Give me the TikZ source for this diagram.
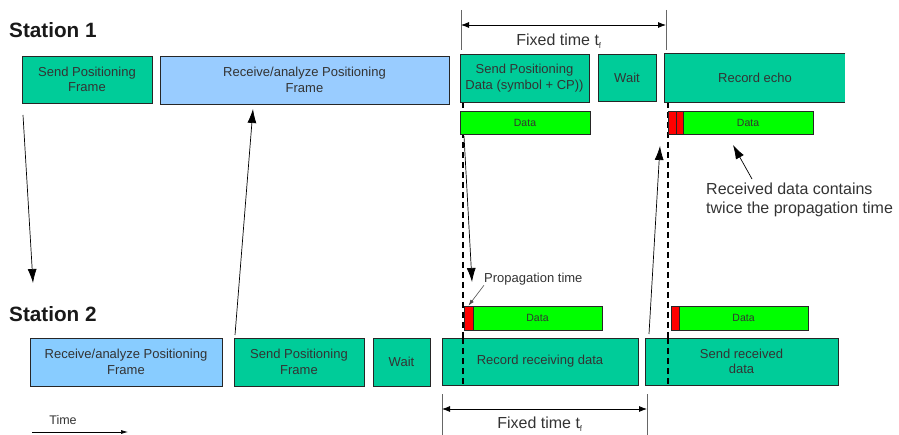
\documentclass[tikz,border=0pt]{standalone}
\usepackage{fontspec}
\setmainfont{Liberation Sans}
\usetikzlibrary{arrows.meta}
\definecolor{boxgreen}{HTML}{00CC99}
\definecolor{boxblue}{HTML}{99CCFF}
\definecolor{boxblueb}{HTML}{88CCFF}
\definecolor{datagreen}{HTML}{00FF00}
\definecolor{txt}{HTML}{333333}
\tikzset{
  box/.style={draw=black!85, line width=0.9pt, inner sep=0pt, align=center, text=txt, font=\fontsize{13}{15.5}\selectfont},
  gbox/.style={box, fill=boxgreen},
  bbox/.style={box, fill=boxblue},
  databar/.style={draw=black!85, line width=0.8pt, fill=datagreen, inner sep=0pt, text=txt, font=\fontsize{10.5}{12}\selectfont},
  redbar/.style={draw=black!85, line width=0.8pt, fill=red, inner sep=0pt},
  bigarrow/.style={draw=black, line width=0.7pt, -{Latex[length=14pt,width=9pt]}},
  dimarrow/.style={draw=black, line width=0.8pt, {Latex[length=8pt,width=6pt]}-{Latex[length=8pt,width=6pt]}},
  dimline/.style={draw=black!60, line width=1pt},
  dashline/.style={draw=black, line width=1.6pt, dash pattern=on 6pt off 4pt},
  title/.style={font=\fontsize{20.7}{24}\selectfont\bfseries, text=black!90, anchor=west, inner sep=0pt},
  lbl/.style={font=\fontsize{16}{19}\selectfont, text=txt, inner sep=0pt}
}
\begin{document}
\begin{tikzpicture}[x=1pt,y=-1pt]
\useasboundingbox (0,0) rectangle (899,435);

% titles
\node[title] (st1) at (9,30) {Station 1};
\node[title] (st2) at (9,314) {Station 2};

% dashed guide lines
\draw[dashline] (463,102) -- (463,386);
\draw[dashline] (668,102) -- (668,386);

% Station 1 boxes
\node[gbox, minimum width=130pt, minimum height=47pt] (a1) at (87,79.5) {Send Positioning\\Frame};
\node[bbox, minimum width=289pt, minimum height=48pt] (a2) at (304.5,80) {Receive/analyze Positioning\\Frame};
\node[gbox, minimum width=129pt, minimum height=48pt] (a3) at (524.5,78) {Send Positioning\\Data (symbol + CP))};
\node[gbox, minimum width=58pt, minimum height=47pt] (a4) at (627,77.5) {Wait};
\node[box, draw=none, fill=boxgreen, minimum width=180pt, minimum height=48pt] (a5) at (755,78) {Record echo};
\draw[black!85, line width=0.9pt] (a5.north east) -- (a5.north west) -- (a5.south west) -- (a5.south east);

% Station 1 data bars
\node[databar, minimum width=130pt, minimum height=23pt] (d1) at (525,122.5) {Data};
\node[redbar, minimum width=8pt, minimum height=23pt] (r2a) at (672,122.5) {};
\node[redbar, minimum width=7pt, minimum height=23pt] (r2b) at (679.5,122.5) {};
\node[databar, minimum width=130pt, minimum height=23pt] (d2) at (748,122.5) {Data};

% top dimension
\draw[dimline] (461,10) -- (461,50);
\draw[dimline] (666,10) -- (666,50);
\coordinate (t1l) at (461,25);
\coordinate (t1r) at (666,25);
\draw[dimarrow] (t1l) -- (t1r);
\node[lbl] (fx1) at (559,41) {Fixed time t\textsubscript{\fontsize{8}{9}\selectfont f}};

% Station 2 data bars
\node[redbar, minimum width=9pt, minimum height=24pt] (r3) at (468.5,318) {};
\node[databar, minimum width=129pt, minimum height=24pt] (d3) at (537.5,318) {Data};
\node[redbar, minimum width=8pt, minimum height=24pt] (r4) at (675,318) {};
\node[databar, minimum width=129pt, minimum height=24pt] (d4) at (743.5,318) {Data};

% Station 2 boxes
\node[box, fill=boxblueb, minimum width=192pt, minimum height=48pt] (b1) at (126,362) {Receive/analyze Positioning\\Frame};
\node[gbox, minimum width=130pt, minimum height=48pt] (b2) at (299,362) {Send Positioning\\Frame};
\node[gbox, minimum width=57pt, minimum height=48pt] (b3) at (401.5,362) {Wait};
\node[gbox, minimum width=196pt, minimum height=47pt] (b4) at (540,361.5) {Record receiving data};
\node[gbox, minimum width=193pt, minimum height=47pt] (b5) at (741.5,361.5) {Send received\\data};
\draw[dashline] (463,338) -- (463,386);
\draw[dashline] (668,338) -- (668,386);

% bottom dimension
\draw[dimline] (442,394) -- (442,435);
\draw[dimline] (647,394) -- (647,435);
\coordinate (t2l) at (442,409);
\coordinate (t2r) at (647,409);
\draw[dimarrow] (t2l) -- (t2r);
\node[lbl] (fx2) at (540,424) {Fixed time t\textsubscript{\fontsize{8}{9}\selectfont f}};

% big arrows between stations
\coordinate (p1s) at (23,115);
\coordinate (p1e) at (33,283);
\draw[bigarrow] (p1s) -- (p1e);
\coordinate (p2s) at (235,335);
\coordinate (p2e) at (253,109);
\draw[bigarrow] (p2s) -- (p2e);
\coordinate (p3s) at (464,136);
\coordinate (p3e) at (472,282);
\draw[bigarrow] (p3s) -- (p3e);
\coordinate (p4s) at (649,334);
\coordinate (p4e) at (660,146);
\draw[bigarrow] (p4s) -- (p4e);

% annotations
\node[lbl, font=\fontsize{13}{15}\selectfont, anchor=west] (prop) at (484,279) {Propagation time};
\draw[black!70, line width=0.6pt, -{Latex[length=6pt,width=4pt]}] (prop.south west) -- (r3.north);
\node[lbl, anchor=north west, align=left, font=\fontsize{16}{18.5}\selectfont] (rec) at (706,183) {Received data contains\\twice the propagation time};
\coordinate (recs) at (752,179);
\coordinate (rece) at (733,145);
\draw[bigarrow] (recs) -- (rece);

% time arrow
\node[lbl, font=\fontsize{12.5}{14}\selectfont] (tm) at (63,420) {Time};
\coordinate (ts) at (32,432);
\coordinate (te) at (128,432);
\draw[black, line width=0.7pt, -{Latex[length=7pt,width=4pt]}] (ts) -- (te);
\end{tikzpicture}
\end{document}
